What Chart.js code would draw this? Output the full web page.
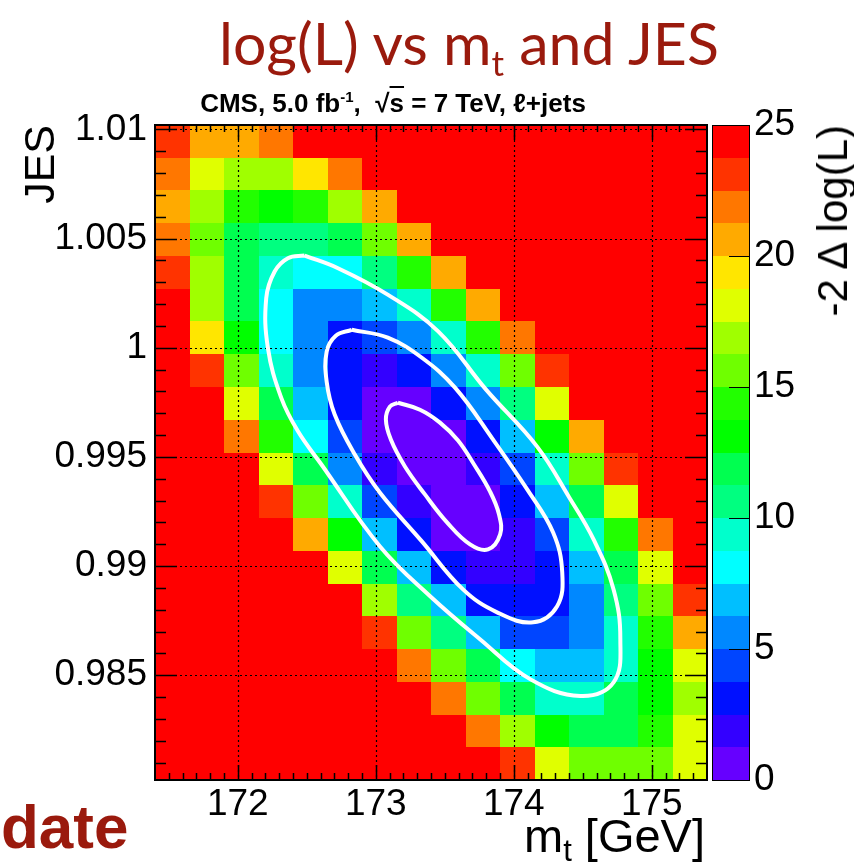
<!DOCTYPE html>
<html>
<head>
<meta charset="utf-8">
<script src="https://cdn.jsdelivr.net/npm/chart.js@4.4.1/dist/chart.umd.min.js"></script>
<style>
  body { margin:0; background:#fff; }
  #wrap { position:relative; width:854px; height:864px; overflow:hidden; }
  #nllChart { position:absolute; left:0; top:0; }
  .txt { position:absolute; white-space:nowrap; line-height:1; }
  #titulo { left:0; width:938px; text-align:center; top:13px; font-family:Lato, 'Open Sans', sans-serif; font-size:59px; color:#9a1a0d; }
  #titulo sub { font-size:35px; vertical-align:-11px; line-height:0; }
  #cms { left:0; width:786px; text-align:center; top:90px; font-family:'Liberation Sans', Arial, sans-serif; font-weight:bold; font-size:26px; color:#000; }
  #cms sup { font-size:15px; vertical-align:10px; line-height:0; }
  .raiz { text-decoration:overline; }
  #ejeX { right:149px; top:812px; font-family:'Liberation Sans', Arial, sans-serif; font-size:47px; color:#000; }
  #ejeX sub { font-size:31px; vertical-align:-9px; line-height:0; }
  #ejeZ { left:812px; top:125px; font-family:'Liberation Sans', Arial, sans-serif; font-size:42px; color:#000; transform-origin:top left; transform:rotate(-90deg) translateX(-100%); }
  #update { left:1px; top:796px; font-family:'Liberation Sans', Arial, sans-serif; font-weight:bold; font-size:62px; color:#9a1a0d; }
</style>
</head>
<body>
<div id="wrap">
  <canvas id="nllChart" width="854" height="864"></canvas>
  <div class="txt" id="titulo">log(L) vs m<sub>t</sub> and JES</div>
  <div class="txt" id="cms">CMS, 5.0 fb<sup>-1</sup>,&nbsp; √<span class="raiz">s</span> = 7 TeV, ℓ+jets</div>
  <div class="txt" id="ejeX">m<sub>t</sub> [GeV]</div>
  <div class="txt" id="ejeZ">-2 Δ log(L)</div>
  <div class="txt" id="update">date</div>
</div>
<script>
const mtEdges = [171.4, 171.65, 171.9, 172.15, 172.4, 172.65, 172.9, 173.15, 173.4, 173.65, 173.9, 174.15, 174.4, 174.65, 174.9, 175.15, 175.4];
// JES bin edges, top row first
const jesEdges = [1.0102, 1.0087, 1.0072, 1.0057, 1.0042, 1.0027, 1.0012, 0.9997, 0.9982, 0.9967, 0.9952, 0.9937, 0.9922, 0.9907, 0.9892, 0.9877, 0.9862, 0.9847, 0.9832, 0.9817, 0.9802];

// -2 delta log(L), one row per JES bin (top to bottom), values >= 25 shown saturated
const nll = [
  [23.1, 20.6, 20.6, 21.9, 25, 25, 25, 25, 25, 25, 25, 25, 25, 25, 25, 25],
  [21.9, 18.1, 16.9, 16.9, 19.4, 21.9, 25, 25, 25, 25, 25, 25, 25, 25, 25, 25],
  [20.6, 16.9, 14.4, 13.1, 14.4, 16.9, 20.6, 25, 25, 25, 25, 25, 25, 25, 25, 25],
  [21.9, 15.6, 11.9, 10.6, 10.6, 11.9, 15.6, 20.6, 25, 25, 25, 25, 25, 25, 25, 25],
  [23.1, 16.9, 11.9, 9.4, 8.1, 8.1, 10.6, 14.4, 20.6, 25, 25, 25, 25, 25, 25, 25],
  [25, 16.9, 11.9, 8.1, 5.6, 5.6, 6.9, 9.4, 14.4, 20.6, 25, 25, 25, 25, 25, 25],
  [25, 19.4, 13.1, 8.1, 5.6, 3.1, 4.4, 5.6, 9.4, 14.4, 21.9, 25, 25, 25, 25, 25],
  [25, 23.1, 15.6, 9.4, 5.6, 3.1, 1.9, 3.1, 5.6, 9.4, 15.6, 23.1, 25, 25, 25, 25],
  [25, 25, 18.1, 11.9, 6.9, 3.1, 0.6, 0.6, 3.1, 5.6, 10.6, 18.1, 25, 25, 25, 25],
  [25, 25, 21.9, 14.4, 8.1, 4.4, 0.6, 0.6, 0.6, 3.1, 6.9, 13.1, 20.6, 25, 25, 25],
  [25, 25, 25, 18.1, 11.9, 5.6, 1.9, 0.6, 0.6, 1.9, 4.4, 9.4, 15.6, 23.1, 25, 25],
  [25, 25, 25, 23.1, 15.6, 9.4, 4.4, 1.9, 0.6, 0.6, 3.1, 6.9, 11.9, 18.1, 25, 25],
  [25, 25, 25, 25, 20.6, 13.1, 6.9, 3.1, 0.6, 0.6, 1.9, 4.4, 9.4, 14.4, 21.9, 25],
  [25, 25, 25, 25, 25, 18.1, 11.9, 6.9, 3.1, 1.9, 1.9, 3.1, 6.9, 11.9, 18.1, 25],
  [25, 25, 25, 25, 25, 25, 16.9, 10.6, 6.9, 3.1, 3.1, 3.1, 5.6, 10.6, 15.6, 23.1],
  [25, 25, 25, 25, 25, 25, 23.1, 15.6, 10.6, 6.9, 4.4, 4.4, 5.6, 9.4, 14.4, 20.6],
  [25, 25, 25, 25, 25, 25, 25, 21.9, 15.6, 11.9, 8.1, 6.9, 6.9, 9.4, 13.1, 18.1],
  [25, 25, 25, 25, 25, 25, 25, 25, 21.9, 15.6, 11.9, 9.4, 9.4, 11.9, 13.1, 16.9],
  [25, 25, 25, 25, 25, 25, 25, 25, 25, 21.9, 16.9, 13.1, 11.9, 11.9, 14.4, 18.1],
  [25, 25, 25, 25, 25, 25, 25, 25, 25, 25, 23.1, 18.1, 15.6, 15.6, 15.6, 18.1]
];

// white contours
const innerMt = [173.160, 173.320, 173.465, 173.596, 173.712, 173.828, 173.893, 173.901, 173.813, 173.683, 173.516, 173.356, 173.211, 173.109, 173.073, 173.102];
const innerJes = [0.99748, 0.99716, 0.99657, 0.99575, 0.99465, 0.99341, 0.99236, 0.99145, 0.99076, 0.99099, 0.99200, 0.99328, 0.99456, 0.99579, 0.99671, 0.99730];
const midMt = [172.826, 173.087, 173.334, 173.574, 173.850, 174.097, 174.285, 174.351, 174.314, 174.140, 173.879, 173.632, 173.334, 173.029, 172.848, 172.702, 172.644, 172.644, 172.710];
const midJes = [1.00082, 1.00046, 0.99954, 0.99817, 0.99579, 0.99351, 0.99154, 0.98971, 0.98816, 0.98742, 0.98788, 0.98893, 0.99113, 0.99337, 0.99511, 0.99694, 0.99844, 0.99982, 1.00055];
const outerMt = [172.484, 172.726, 173.089, 173.452, 173.799, 174.169, 174.402, 174.578, 174.723, 174.772, 174.723, 174.481, 174.118, 173.755, 173.392, 173.029, 172.606, 172.436, 172.315, 172.218, 172.206, 172.267, 172.363];
const outerJes = [1.00422, 1.00364, 1.00242, 1.00075, 0.99808, 0.99547, 0.99314, 0.99122, 0.98893, 0.98665, 0.98467, 0.98405, 0.98482, 0.98665, 0.98863, 0.99091, 0.99465, 0.99617, 0.99770, 0.99999, 1.00227, 1.00349, 1.00410];

const xTicks = [172, 173, 174, 175];
const xTickLabels = ['172', '173', '174', '175'];
const yTicks = [0.985, 0.99, 0.995, 1, 1.005, 1.01];
const yTickLabels = ['0.985', '0.99', '0.995', '1', '1.005', '1.01'];
const zTicks = [0, 5, 10, 15, 20, 25];
const zTickLabels = ['0', '5', '10', '15', '20', '25'];

const paleta = ['#6600ff','#3300ff','#0010ff','#0045ff','#0088ff','#00bfff','#00ffff','#00ffcc','#00ff80','#00ff50',
                '#00ff00','#22ff00','#6fff00','#a0ff00','#e0ff00','#ffe600','#ffaa00','#ff7700','#ff3300','#ff0000'];
const zMax = 25;
const fuente = "'Liberation Sans', Arial, sans-serif";

function colorPara(v) {
  const i = Math.min(paleta.length - 1, Math.max(0, Math.floor(v / zMax * paleta.length)));
  return paleta[i];
}

function cerrar(mt, jes) {
  const pts = mt.map((m, i) => ({ x: m, y: jes[i] }));
  pts.push(pts[0]);
  return pts;
}

const heatmap = {
  id: 'heatmap',
  beforeDatasetsDraw(chart) {
    const { ctx, chartArea: a, scales: { x, y, z } } = chart;
    ctx.save();
    nll.forEach((fila, r) => {
      fila.forEach((v, c) => {
        const x0 = Math.round(x.getPixelForValue(mtEdges[c]));
        const x1 = Math.round(x.getPixelForValue(mtEdges[c + 1]));
        const y0 = Math.round(y.getPixelForValue(jesEdges[r]));
        const y1 = Math.round(y.getPixelForValue(jesEdges[r + 1]));
        ctx.fillStyle = colorPara(v);
        ctx.fillRect(x0, y0, x1 - x0, y1 - y0);
      });
    });

    // dotted grid
    ctx.strokeStyle = '#000';
    ctx.lineWidth = 1.2;
    ctx.setLineDash([2, 3]);
    xTicks.forEach(v => {
      const px = Math.round(x.getPixelForValue(v)) + 0.5;
      ctx.beginPath(); ctx.moveTo(px, a.top); ctx.lineTo(px, a.bottom); ctx.stroke();
    });
    yTicks.forEach(v => {
      const py = Math.round(y.getPixelForValue(v)) + 0.5;
      ctx.beginPath(); ctx.moveTo(a.left, py); ctx.lineTo(a.right, py); ctx.stroke();
    });
    ctx.setLineDash([]);

    // colour bar
    const cbL = 712, cbR = 749;
    paleta.forEach((col, i) => {
      const yTop = Math.round(z.getPixelForValue((i + 1) * zMax / paleta.length));
      const yBot = Math.round(z.getPixelForValue(i * zMax / paleta.length));
      ctx.fillStyle = col;
      ctx.fillRect(cbL, yTop, cbR - cbL, yBot - yTop);
    });
    ctx.lineWidth = 1;
    ctx.strokeRect(cbL + 0.5, a.top + 0.5, cbR - cbL, a.bottom - a.top);
    zTicks.forEach(v => {
      const py = Math.round(z.getPixelForValue(v)) + 0.5;
      ctx.beginPath(); ctx.moveTo(cbR - 20, py); ctx.lineTo(cbR, py); ctx.stroke();
    });
    ctx.restore();
  },
  afterDatasetsDraw(chart) {
    const { ctx, chartArea: a, scales: { x, y } } = chart;
    ctx.save();
    ctx.strokeStyle = '#000';
    ctx.lineWidth = 1.5;
    for (let i = 981; i <= 1010; i++) {
      const v = i / 1000;
      const largo = yTicks.some(t => Math.abs(t - v) < 1e-6) ? 22 : 11;
      const py = Math.round(y.getPixelForValue(v)) + 0.5;
      ctx.beginPath();
      ctx.moveTo(a.left, py); ctx.lineTo(a.left + largo, py);
      ctx.moveTo(a.right, py); ctx.lineTo(a.right - largo, py);
      ctx.stroke();
    }
    for (let i = 1715; i <= 1753; i++) {
      const v = i / 10;
      const largo = xTicks.some(t => Math.abs(t - v) < 1e-6) ? 15 : 7;
      const px = Math.round(x.getPixelForValue(v)) + 0.5;
      ctx.beginPath();
      ctx.moveTo(px, a.bottom); ctx.lineTo(px, a.bottom - largo);
      ctx.moveTo(px, a.top); ctx.lineTo(px, a.top + largo);
      ctx.stroke();
    }
    ctx.lineWidth = 2;
    ctx.strokeRect(a.left, a.top, a.right - a.left, a.bottom - a.top);
    ctx.restore();
  }
};

const estiloContorno = { showLine: true, borderColor: '#ffffff', borderWidth: 4, pointRadius: 0, tension: 0.4, fill: false };

const ctx = document.getElementById('nllChart').getContext('2d');
const nllChart = new Chart(ctx, {
  type: 'scatter',
  data: {
    datasets: [
      { ...estiloContorno, data: cerrar(innerMt, innerJes) },
      { ...estiloContorno, data: cerrar(midMt, midJes) },
      { ...estiloContorno, data: cerrar(outerMt, outerJes) }
    ]
  },
  options: {
    responsive: false,
    animation: false,
    events: [],
    layout: { padding: { top: 125, left: 0, right: 0, bottom: 0 } },
    plugins: { legend: { display: false }, tooltip: { enabled: false } },
    scales: {
      x: {
        type: 'linear', position: 'bottom', min: 171.4, max: 175.4,
        grid: { display: false, drawTicks: false }, border: { display: false },
        afterBuildTicks: s => { s.ticks = xTicks.map(v => ({ value: v })); },
        afterFit: s => { s.height = 84; },
        ticks: { autoSkip: false, maxRotation: 0, padding: 3, color: '#000', font: { family: fuente, size: 37 },
                 callback: v => xTickLabels[xTicks.indexOf(v)] }
      },
      y: {
        type: 'linear', position: 'left', min: 0.9802, max: 1.0102,
        grid: { display: false, drawTicks: false }, border: { display: false },
        afterBuildTicks: s => { s.ticks = yTicks.map(v => ({ value: v })); },
        afterFit: s => { s.width = 155; },
        ticks: { autoSkip: false, padding: 8, color: '#000', font: { family: fuente, size: 37 },
                 callback: v => yTickLabels[yTicks.indexOf(v)] },
        title: { display: true, text: 'JES', align: 'end', color: '#000', font: { family: fuente, size: 43 }, padding: { top: 16, bottom: 0 } }
      },
      z: {
        type: 'linear', position: 'right', min: 0, max: zMax,
        grid: { display: false, drawTicks: false }, border: { display: false },
        afterBuildTicks: s => { s.ticks = zTicks.map(v => ({ value: v })); },
        afterFit: s => { s.width = 147; },
        ticks: { autoSkip: false, padding: 47, color: '#000', font: { family: fuente, size: 37 },
                 callback: v => zTickLabels[zTicks.indexOf(v)] }
      }
    }
  },
  plugins: [heatmap]
});
</script>
</body>
</html>
